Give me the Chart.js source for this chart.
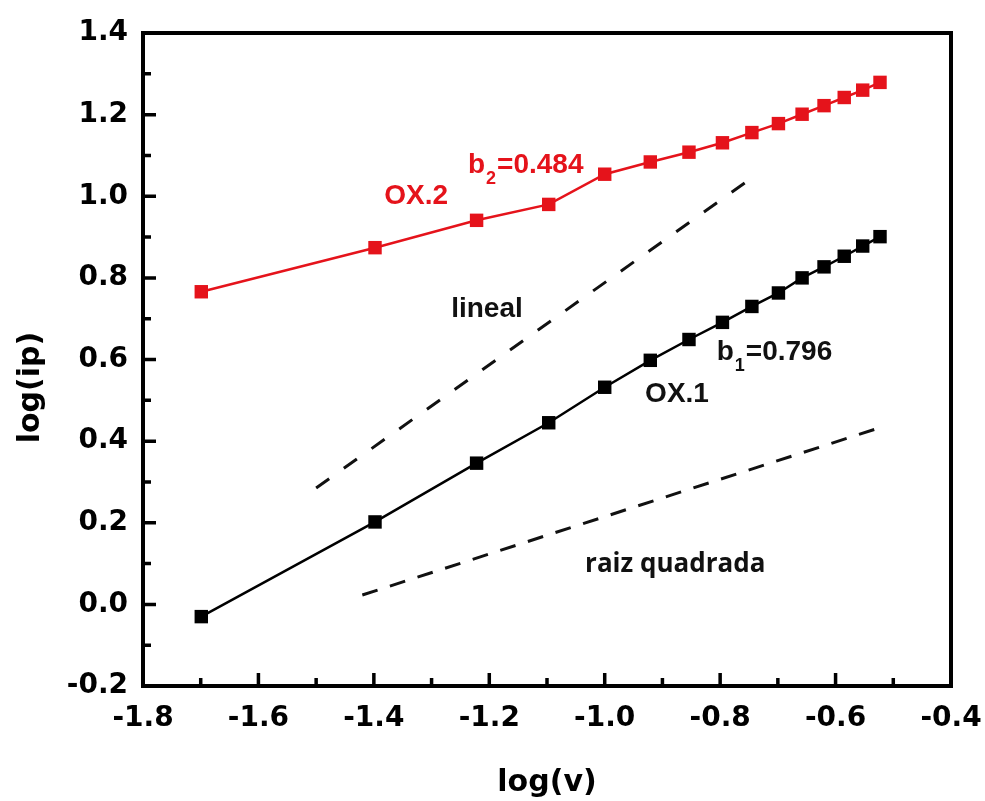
<!DOCTYPE html>
<html>
<head>
<meta charset="utf-8">
<title>log(ip) vs log(v)</title>
<script src="https://cdn.jsdelivr.net/npm/chart.js@4.4.1/dist/chart.umd.min.js"></script>
<style>
	html, body {
		margin: 0;
		padding: 0;
		background: #fff;
	}
</style>
</head>
<body>
<canvas id="ipchart" width="985" height="801"></canvas>
<script>
	// log(v) of each scan rate, shared by both series
	var logV = [-1.699, -1.398, -1.222, -1.097, -1.000, -0.921, -0.854, -0.796, -0.745, -0.699, -0.658, -0.620, -0.585, -0.553, -0.523];
	// log(ip)
	var ox1 = [-0.030, 0.202, 0.346, 0.445, 0.532, 0.598, 0.649, 0.691, 0.730, 0.763, 0.800, 0.827, 0.853, 0.878, 0.901];
	var ox2 = [0.766, 0.874, 0.941, 0.980, 1.054, 1.084, 1.108, 1.131, 1.156, 1.178, 1.201, 1.222, 1.242, 1.260, 1.279];
	// guide lines (slope 1 and slope 1/2)
	var linealX = [-1.500, -0.745];
	var linealY = [0.285, 1.045];
	var raizX = [-1.420, -0.521];
	var raizY = [0.023, 0.434];
	// axis ranges
	var xRange = [-1.8, -0.4];
	var yRange = [-0.2, 1.4];
	var tickStep = 0.2;

	var RED = '#e5131b';
	var AXIS_FONT = '"DejaVu Sans", sans-serif';
	var NOTE_FONT = '"Liberation Sans", Arial, sans-serif';

	// text placed in the plot, anchored at data coordinates (left, baseline)
	var notes = [
		{pre: 'OX.2', sub: '', post: '', x: -1.382, y: 0.982, color: RED},
		{pre: 'b', sub: '2', post: '=0.484', x: -1.237, y: 1.058, color: RED},
		{pre: 'lineal', sub: '', post: '', x: -1.266, y: 0.703, color: '#111'},
		{pre: 'b', sub: '1', post: '=0.796', x: -0.806, y: 0.600, color: '#111'},
		{pre: 'OX.1', sub: '', post: '', x: -0.930, y: 0.497, color: '#111'},
		{pre: 'raiz quadrada', sub: '', post: '', x: -1.034, y: 0.080, color: '#111', font: 'bold 26px "Open Sans", sans-serif'}
	];

	function toPoints(xs, ys) {
		return xs.map(function(x, i) { return {x: x, y: ys[i]}; });
	}

	function fmt(v) {
		return Math.abs(v) < 1e-9 ? '0.0' : v.toFixed(1);
	}

	// frame, inward ticks, y title and notes
	var framePlugin = {
		id: 'frame',
		afterDraw: function(chart) {
			var ctx = chart.ctx, a = chart.chartArea;
			var xs = chart.scales.x, ys = chart.scales.y;
			ctx.save();
			ctx.strokeStyle = '#000';
			ctx.lineWidth = 4;
			ctx.strokeRect(a.left, a.top, a.right - a.left, a.bottom - a.top);

			ctx.lineWidth = 3.5;
			ctx.beginPath();
			var xv = xs.ticks.map(function(t) { return t.value; });
			xv.forEach(function(v, i) {
				var px = xs.getPixelForValue(v);
				ctx.moveTo(px, a.bottom); ctx.lineTo(px, a.bottom - 13);
				if (i < xv.length - 1) {
					var mx = xs.getPixelForValue((v + xv[i + 1]) / 2);
					ctx.moveTo(mx, a.bottom); ctx.lineTo(mx, a.bottom - 8);
				}
			});
			var yv = ys.ticks.map(function(t) { return t.value; });
			yv.forEach(function(v, i) {
				var py = ys.getPixelForValue(v);
				ctx.moveTo(a.left, py); ctx.lineTo(a.left + 13, py);
				if (i < yv.length - 1) {
					var my = ys.getPixelForValue((v + yv[i + 1]) / 2);
					ctx.moveTo(a.left, my); ctx.lineTo(a.left + 8, my);
				}
			});
			ctx.stroke();

			// y axis title
			ctx.save();
			ctx.translate(31, (a.top + a.bottom) / 2 + 28);
			ctx.rotate(-Math.PI / 2);
			ctx.font = 'bold 30px ' + AXIS_FONT;
			ctx.fillStyle = '#000';
			ctx.textAlign = 'center';
			ctx.textBaseline = 'middle';
			ctx.fillText('log(ip)', 0, 0);
			ctx.restore();

			// notes
			ctx.textBaseline = 'alphabetic';
			ctx.textAlign = 'left';
			notes.forEach(function(n) {
				var font = n.font || 'bold 28px ' + NOTE_FONT;
				var px = xs.getPixelForValue(n.x), py = ys.getPixelForValue(n.y);
				ctx.fillStyle = n.color;
				ctx.font = font;
				ctx.fillText(n.pre, px, py);
				px += ctx.measureText(n.pre).width;
				if (n.sub) {
					ctx.font = 'bold 18px ' + NOTE_FONT;
					ctx.fillText(n.sub, px + 1, py + 11);
					px += ctx.measureText(n.sub).width + 2;
					ctx.font = font;
				}
				if (n.post) ctx.fillText(n.post, px, py);
			});
			ctx.restore();
		}
	};

	var myChart = new Chart(document.getElementById('ipchart'), {
		type: 'scatter',
		data: {
			datasets: [
				{
					label: 'OX.2',
					data: toPoints(logV, ox2),
					showLine: true,
					borderColor: RED,
					backgroundColor: RED,
					borderWidth: 2.5,
					pointStyle: 'rect',
					pointRadius: 9.5,
					pointBorderWidth: 0
				},
				{
					label: 'OX.1',
					data: toPoints(logV, ox1),
					showLine: true,
					borderColor: '#000',
					backgroundColor: '#000',
					borderWidth: 2.5,
					pointStyle: 'rect',
					pointRadius: 9.5,
					pointBorderWidth: 0
				},
				{
					label: 'lineal',
					data: toPoints(linealX, linealY),
					showLine: true,
					borderColor: '#111',
					borderWidth: 3,
					borderDash: [16, 18],
					pointRadius: 0
				},
				{
					label: 'raiz quadrada',
					data: toPoints(raizX, raizY),
					showLine: true,
					borderColor: '#111',
					borderWidth: 3,
					borderDash: [16, 13],
					pointRadius: 0
				}
			]
		},
		options: {
			responsive: false,
			animation: false,
			events: [],
			layout: {
				padding: {left: 0, top: 33, right: 34, bottom: 0}
			},
			plugins: {
				legend: {display: false},
				tooltip: {enabled: false}
			},
			scales: {
				x: {
					type: 'linear',
					min: xRange[0],
					max: xRange[1],
					afterFit: function(s) {
						s.height = 115;
						s.paddingLeft = 0;
						s.paddingRight = 0;
					},
					grid: {display: false, drawTicks: false},
					border: {display: false},
					ticks: {
						stepSize: tickStep,
						padding: 16,
						color: '#000',
						font: {family: AXIS_FONT, size: 28, weight: 'bold'},
						callback: fmt
					},
					title: {
						display: true,
						text: 'log(v)',
						color: '#000',
						font: {family: AXIS_FONT, size: 30, weight: 'bold'},
						padding: {top: 0, bottom: 0}
					}
				},
				y: {
					type: 'linear',
					min: yRange[0],
					max: yRange[1],
					afterFit: function(s) {
						s.width = 143;
						s.paddingTop = 0;
						s.paddingBottom = 0;
					},
					grid: {display: false, drawTicks: false},
					border: {display: false},
					ticks: {
						stepSize: tickStep,
						padding: 15,
						color: '#000',
						font: {family: AXIS_FONT, size: 28, weight: 'bold'},
						callback: fmt
					}
				}
			}
		},
		plugins: [framePlugin]
	});
</script>
</body>
</html>
